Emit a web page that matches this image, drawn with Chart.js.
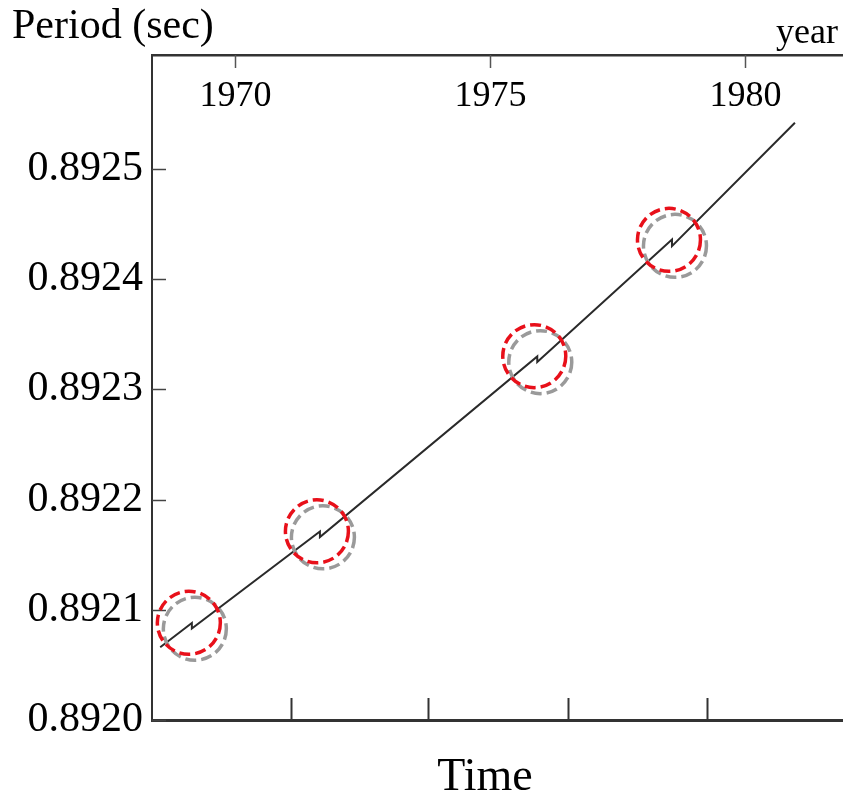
<!DOCTYPE html>
<html><head><meta charset="utf-8">
<script src="https://cdn.jsdelivr.net/npm/chart.js@4.4.1/dist/chart.umd.min.js"></script>
<style>html,body{margin:0;padding:0;background:#fff;} #wrap{width:843px;height:799px;position:relative;}</style>
</head><body><div id="wrap"><canvas id="c" width="843" height="799"></canvas></div>
<script>
// ---- data ----
const years   = [1968.53, 1969.15, 1969.15, 1971.66, 1971.66, 1975.92, 1975.92, 1978.56, 1978.56, 1980.97];
const periods = [0.892066, 0.892088, 0.892083, 0.892171, 0.892166, 0.892330, 0.892325, 0.892436, 0.892430, 0.892542];
const glitchBefore = [1, 3, 5, 7];           // index of the point just before each glitch
const yearTicks = [1970, 1975, 1980];
const yearTickLabels = ['1970', '1975', '1980'];
const bottomTicks = [1971.09, 1973.78, 1976.52, 1979.25];
const periodTicks = [0.8920, 0.8921, 0.8922, 0.8923, 0.8924, 0.8925];
const periodTickLabels = ['0.8920', '0.8921', '0.8922', '0.8923', '0.8924', '0.8925'];
const yAxisTitle = 'Period (sec)';
const xAxisTitle = 'Time';
const yearUnit = 'year';

const X_MIN = 1968.369, X_MAX = 1981.912;
const Y_MIN = 0.8920, Y_MAX = 0.8926035;
const FONT = "'Liberation Serif', 'DejaVu Serif', serif";

const decor = {
  id: 'decor',
  afterDraw(chart) {
    const ctx = chart.ctx;
    const xs = chart.scales.x, xt = chart.scales.xTop, ys = chart.scales.y;
    const ca = chart.chartArea;
    ctx.save();
    // inner y ticks
    ctx.strokeStyle = '#444'; ctx.lineWidth = 1.5;
    periodTicks.forEach(v => {
      const py = Math.round(ys.getPixelForValue(v)) + 0.5;
      ctx.beginPath(); ctx.moveTo(ca.left, py); ctx.lineTo(ca.left + 14, py); ctx.stroke();
    });
    // top year ticks + labels
    ctx.fillStyle = '#000';
    ctx.font = '36px ' + FONT;
    ctx.textAlign = 'center'; ctx.textBaseline = 'middle';
    yearTicks.forEach((v, i) => {
      const px = Math.round(xt.getPixelForValue(v)) + 0.5;
      ctx.strokeStyle = '#555'; ctx.lineWidth = 1.5;
      ctx.beginPath(); ctx.moveTo(px, ca.top); ctx.lineTo(px, ca.top + 13); ctx.stroke();
      ctx.fillText(yearTickLabels[i], px, ca.top + 42);
    });
    // bottom ticks
    ctx.strokeStyle = '#333'; ctx.lineWidth = 2;
    bottomTicks.forEach(v => {
      const px = Math.round(xs.getPixelForValue(v)) + 0.5;
      ctx.beginPath(); ctx.moveTo(px, ca.bottom); ctx.lineTo(px, ca.bottom - 22); ctx.stroke();
    });
    // glitch circles
    ctx.lineWidth = 3.5;
    ctx.setLineDash([11, 5]);
    glitchBefore.forEach(i => {
      const px = xs.getPixelForValue(years[i]);
      const py = (ys.getPixelForValue(periods[i]) + ys.getPixelForValue(periods[i + 1])) / 2;
      ctx.strokeStyle = '#9a9a9a';
      ctx.beginPath(); ctx.arc(px + 3, py + 3, 31.5, 0, Math.PI * 2); ctx.stroke();
      ctx.strokeStyle = '#e8101a';
      ctx.beginPath(); ctx.arc(px - 3, py - 3, 31.5, 0, Math.PI * 2); ctx.stroke();
    });
    ctx.setLineDash([]);
    // texts
    ctx.fillStyle = '#000';
    ctx.font = '42px ' + FONT;
    ctx.textAlign = 'left'; ctx.textBaseline = 'middle';
    ctx.fillText(yAxisTitle, 12, 27);
    ctx.font = '36px ' + FONT;
    ctx.textAlign = 'right';
    ctx.fillText(yearUnit, 838, 34);
    ctx.font = '46px ' + FONT;
    ctx.textAlign = 'center';
    ctx.fillText(xAxisTitle, 485, 778);
    ctx.restore();
  }
};

new Chart(document.getElementById('c'), {
  type: 'scatter',
  data: {
    datasets: [{
      data: years.map((x, i) => ({ x: x, y: periods[i] })),
      showLine: true,
      borderColor: '#2a2a2a',
      borderWidth: 2,
      pointRadius: 0,
      tension: 0,
      fill: false
    }]
  },
  options: {
    responsive: false,
    animation: false,
    events: [],
    layout: { padding: 0 },
    plugins: { legend: { display: false }, tooltip: { enabled: false } },
    scales: {
      x: {
        type: 'linear', position: 'bottom', min: X_MIN, max: X_MAX,
        afterBuildTicks: s => { s.ticks = bottomTicks.map(v => ({ value: v })); },
        afterFit: s => { s.height = 79; },
        ticks: { display: false },
        grid: { display: false, drawTicks: false },
        border: { display: true, color: '#333', width: 3 }
      },
      xTop: {
        type: 'linear', position: 'top', min: X_MIN, max: X_MAX,
        afterBuildTicks: s => { s.ticks = yearTicks.map(v => ({ value: v })); },
        afterFit: s => { s.height = 55; },
        ticks: { display: false },
        grid: { display: false, drawTicks: false },
        border: { display: true, color: '#333', width: 2.5 }
      },
      y: {
        type: 'linear', position: 'left', min: Y_MIN, max: Y_MAX,
        afterBuildTicks: s => { s.ticks = periodTicks.map(v => ({ value: v })); },
        afterFit: s => { s.width = 152; },
        ticks: {
          padding: 9, color: '#000',
          font: { family: FONT, size: 42 },
          callback: (v, i) => periodTickLabels[i]
        },
        grid: { display: false, drawTicks: false },
        border: { display: true, color: '#333', width: 2 }
      }
    }
  },
  plugins: [decor]
});
</script>
</body></html>
